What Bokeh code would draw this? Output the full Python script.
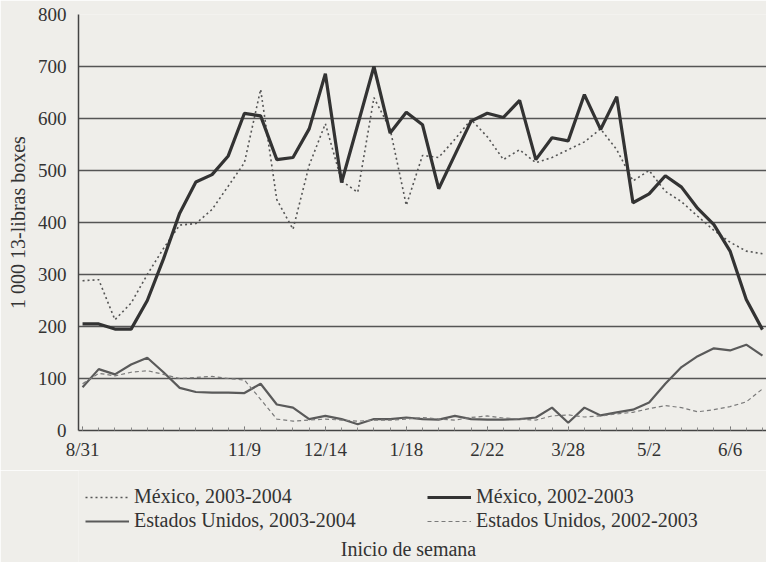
import math
from bokeh.plotting import figure
from bokeh.models import FixedTicker, Legend, LegendItem, Range1d, Label
from bokeh.layouts import column
from bokeh.embed import file_html
from bokeh.resources import INLINE

# ---- data (1 000 13-libras boxes, weekly, starting 8/31) ----
weeks = list(range(43))
mex_0203 = [205, 205, 195, 195, 250, 330, 418, 478, 492, 528, 610, 605, 521, 525,
            580, 686, 477, 588, 700, 572, 612, 588, 465, 530, 595, 610, 602, 635,
            521, 563, 557, 646, 579, 642, 438, 455, 490, 468, 427, 396, 345, 252, 194]
mex_0304 = [288, 290, 213, 245, 300, 350, 395, 398, 425, 470, 515, 656, 444, 387,
            510, 590, 480, 458, 640, 580, 433, 529, 525, 560, 598, 565, 521, 540,
            515, 525, 540, 555, 580, 540, 480, 500, 460, 440, 412, 385, 362, 345, 340]
us_0304 = [83, 118, 108, 127, 140, 112, 82, 74, 73, 73, 72, 90, 50, 44, 22, 28, 22,
           12, 22, 22, 25, 22, 21, 28, 22, 21, 21, 22, 25, 44, 15, 44, 29, 35, 40,
           54, 90, 122, 143, 158, 154, 165, 144]
us_0203 = [90, 110, 105, 112, 115, 108, 100, 102, 104, 100, 97, 60, 22, 18, 20, 22,
           20, 18, 20, 20, 22, 25, 22, 20, 25, 28, 24, 22, 20, 28, 30, 26, 28, 32,
           35, 42, 48, 44, 36, 40, 46, 55, 80]
tick_weeks = [0, 10, 15, 20, 25, 30, 35, 40]
tick_labels = ["8/31", "11/9", "12/14", "1/18", "2/22", "3/28", "5/2", "6/6"]
y_ticks = [0, 100, 200, 300, 400, 500, 600, 700, 800]

FONT = "Liberation Serif"
BG = "#efeeea"
TXT = "#333333"

STYLES = {
    "m04": dict(line_color="#555555", line_width=1.6, line_dash="2 3"),
    "m03": dict(line_color="#333333", line_width=3.2),
    "u04": dict(line_color="#5a5a5a", line_width=2.2),
    "u03": dict(line_color="#7a7a7a", line_width=1.2, line_dash="4 3"),
}

p = figure(width=766, height=470, output_backend="svg", toolbar_location=None,
           x_range=Range1d(-0.25, 42.25), y_range=Range1d(0, 800),
           min_border_left=78, min_border_top=14, min_border_bottom=40,
           min_border_right=0)
p.background_fill_color = BG
p.border_fill_color = BG
p.outline_line_color = None

p.line(weeks, mex_0304, **STYLES["m04"])
p.line(weeks, mex_0203, **STYLES["m03"])
p.line(weeks, us_0304, **STYLES["u04"])
p.line(weeks, us_0203, **STYLES["u03"])

# grid
p.xgrid.visible = False
p.ygrid.ticker = FixedTicker(ticks=y_ticks)
p.ygrid.grid_line_color = "#555555"
p.ygrid.grid_line_width = 1.6

# y axis
p.yaxis.ticker = FixedTicker(ticks=y_ticks)
p.yaxis.axis_label = "1 000 13-libras boxes"
p.yaxis.axis_label_text_font = FONT
p.yaxis.axis_label_text_font_style = "normal"
p.yaxis.axis_label_text_font_size = "20px"
p.yaxis.axis_label_text_color = TXT
p.yaxis.axis_label_standoff = 6
p.yaxis.major_label_text_font = FONT
p.yaxis.major_label_text_font_size = "19px"
p.yaxis.major_label_text_color = TXT
p.yaxis.major_label_standoff = 12
p.yaxis.major_tick_in = 0
p.yaxis.major_tick_out = 0
p.yaxis.minor_tick_line_color = None
p.yaxis.axis_line_color = "#444444"
p.yaxis.axis_line_width = 1.5

# x axis
p.xaxis.ticker = FixedTicker(ticks=tick_weeks, minor_ticks=weeks)
p.xaxis.major_label_overrides = {w: t for w, t in zip(tick_weeks, tick_labels)}
p.xaxis.major_label_text_font = FONT
p.xaxis.major_label_text_font_size = "19px"
p.xaxis.major_label_text_color = TXT
p.xaxis.major_label_standoff = 8
p.xaxis.major_tick_in = 4
p.xaxis.major_tick_out = 0
p.xaxis.minor_tick_in = 3
p.xaxis.minor_tick_out = 0
p.xaxis.major_tick_line_color = "#666666"
p.xaxis.minor_tick_line_color = "#888888"
p.xaxis.axis_line_color = "#444444"
p.xaxis.axis_line_width = 1.5

# ---- legend + x title panel ----
q = figure(width=766, height=92, output_backend="svg", toolbar_location=None,
           x_range=Range1d(0, 688), y_range=Range1d(0, 92),
           x_axis_location=None, y_axis_location=None,
           min_border=0, min_border_left=0, min_border_right=0,
           min_border_top=0, min_border_bottom=0)
q.background_fill_color = BG
q.border_fill_color = BG
q.outline_line_color = None
q.grid.visible = False

nan = [math.nan]
l_m04 = q.line(nan, nan, **STYLES["m04"])
l_u04 = q.line(nan, nan, **STYLES["u04"])
l_m03 = q.line(nan, nan, **STYLES["m03"])
l_u03 = q.line(nan, nan, **STYLES["u03"])

legend = Legend(items=[
    LegendItem(label="México, 2003-2004", renderers=[l_m04]),
    LegendItem(label="Estados Unidos, 2003-2004", renderers=[l_u04]),
    LegendItem(label="México, 2002-2003", renderers=[l_m03]),
    LegendItem(label="Estados Unidos, 2002-2003", renderers=[l_u03]),
], location=(7, 30), ncols=2)
legend.label_text_font = FONT
legend.label_text_font_size = "20px"
legend.label_text_color = TXT
legend.glyph_width = 44
legend.glyph_height = 20
legend.label_standoff = 5
legend.label_width = 292
legend.spacing = 1
legend.padding = 0
legend.margin = 0
legend.border_line_color = None
legend.background_fill_alpha = 0
q.add_layout(legend)

q.add_layout(Label(x=330, y=14, text="Inicio de semana", text_align="center",
                   text_baseline="middle", text_font=FONT, text_font_size="20px",
                   text_color=TXT))

open("out.html", "w").write(file_html(column(p, q), INLINE))
